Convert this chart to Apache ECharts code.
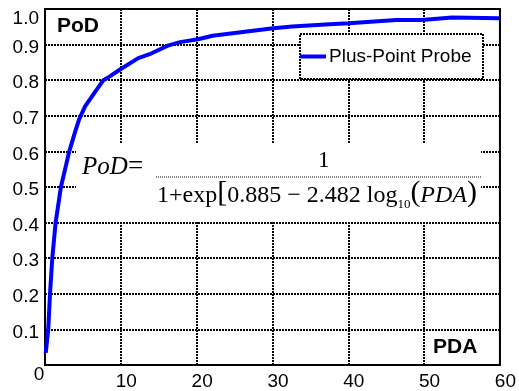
<!DOCTYPE html>
<html>
<head>
<meta charset="utf-8">
<script src="https://cdn.jsdelivr.net/npm/echarts@6/dist/echarts.min.js"></script>
<style>
  html, body {margin: 0; padding: 0; background: #fff;}
  #chart {width: 519px; height: 391px;}
</style>
</head>
<body>
<div id="chart"></div>
<script>
// values
const pdaValues = [0.1, 0.43, 0.66, 0.96, 1.4, 2.1, 3.2, 3.9, 4.5, 5.3, 7.7, 8.5, 9.9, 12.3, 13.8, 16.2, 17.8, 20.2, 22.1, 30.1, 32.6, 37.5, 40.1, 46.3, 49.7, 53.7, 60]
const podValues = [0.034, 0.1, 0.2, 0.3, 0.4, 0.5, 0.6, 0.65, 0.69, 0.727, 0.80, 0.81, 0.83, 0.862, 0.873, 0.897, 0.907, 0.915, 0.925, 0.946, 0.951, 0.957, 0.96, 0.969, 0.969, 0.976, 0.974]
const seriesName = 'Plus-Point Probe'
const xTicks = [0, 10, 20, 30, 40, 50, 60]
const yTicks = [0, 0.1, 0.2, 0.3, 0.4, 0.5, 0.6, 0.7, 0.8, 0.9, 1.0]

const sans = '"Liberation Sans", Arial, sans-serif'
const serif = '"Liberation Serif", "Times New Roman", serif'

const chart = echarts.init(document.getElementById('chart'), null, {renderer: 'canvas'})

const gridLine = {show: true, lineStyle: {color: '#000', width: 2, type: [2, 1]}}

chart.setOption({
  animation: false,
  backgroundColor: '#fff',
  grid: {left: 45, right: 18, top: 9, bottom: 24, show: true, borderColor: '#000', borderWidth: 2, backgroundColor: 'transparent'},
  xAxis: {
    type: 'value',
    min: xTicks[0],
    max: xTicks[xTicks.length - 1],
    interval: 10,
    axisLine: {show: true, onZero: false, lineStyle: {color: '#000', width: 2}},
    axisTick: {show: false},
    splitLine: gridLine,
    axisLabel: {
      margin: 0,
      fontFamily: sans,
      fontSize: 19,
      color: '#000',
      formatter: v => v === 0 ? '{zero|0}' : '{n|' + v + '}',
      rich: {
        n: {fontFamily: sans, fontSize: 19, color: '#000', padding: [7, 0, 0, 11]},
        zero: {fontFamily: sans, fontSize: 19, color: '#000', padding: [0, 12, 7, 0]}
      }
    }
  },
  yAxis: {
    type: 'value',
    min: yTicks[0],
    max: yTicks[yTicks.length - 1],
    interval: 0.1,
    axisLine: {show: true, onZero: false, lineStyle: {color: '#000', width: 2}},
    axisTick: {show: false},
    splitLine: gridLine,
    axisLabel: {
      margin: 6,
      fontFamily: sans,
      fontSize: 19,
      color: '#000',
      formatter: v => {
        if (v === 0) return ''
        if (v >= 0.999) return '{top|1.0}'
        return '{n|' + v.toFixed(1) + '}'
      },
      rich: {
        n: {fontFamily: sans, fontSize: 19, color: '#000', padding: [6, 0, 0, 0]},
        top: {fontFamily: sans, fontSize: 19, color: '#000', padding: [20, 0, 0, 0]}
      }
    }
  },
  legend: {
    data: [seriesName],
    left: 300,
    top: 47,
    padding: 0,
    icon: 'rect',
    itemWidth: 26,
    itemHeight: 4,
    itemGap: 0,
    z: 6,
    textStyle: {fontFamily: sans, fontSize: 19, color: '#000', padding: [0, 0, 0, -2]}
  },
  graphic: [
    // legend frame
    {type: 'rect', z: 5, shape: {x: 300, y: 34, width: 183, height: 45},
      style: {fill: '#fff', stroke: '#000', lineWidth: 2, lineDash: [2, 1]}},
    // equation box
    {type: 'rect', z: 5, shape: {x: 76, y: 143, width: 405, height: 79},
      style: {fill: '#fff', stroke: null}},
    {type: 'text', z: 6, left: 82, top: 155,
      style: {text: 'PoD', font: 'italic 25px ' + serif, fill: '#000'}},
    {type: 'text', z: 6, left: 128, top: 153,
      style: {text: '=', font: '27px ' + serif, fill: '#000'}},
    {type: 'text', z: 6, left: 318, top: 149,
      style: {text: '1', font: '23px ' + serif, fill: '#000'}},
    {type: 'line', z: 6, shape: {x1: 156, y1: 177, x2: 482, y2: 177},
      style: {stroke: '#000', lineWidth: 1, lineDash: [1, 1]}},
    {type: 'text', z: 6, left: 157, top: 178,
      style: {
        text: '{n|1+exp}{b|[}{n|0.885 − 2.482 log}{s|10}{b|(}{i|PDA}{b|)}',
        rich: {
          n: {fontFamily: serif, fontSize: 24, color: '#000', verticalAlign: 'bottom'},
          b: {fontFamily: serif, fontSize: 30, color: '#000', verticalAlign: 'bottom'},
          s: {fontFamily: serif, fontSize: 13, color: '#000', verticalAlign: 'bottom', padding: [0, 0, -3, 0]},
          i: {fontFamily: serif, fontSize: 24, fontStyle: 'italic', color: '#000', verticalAlign: 'bottom'}
        }
      }},
    // axis titles
    {type: 'text', z: 6, left: 57, top: 16,
      style: {text: 'PoD', font: 'bold 21px ' + sans, fill: '#000'}},
    {type: 'text', z: 6, left: 433, top: 337,
      style: {text: 'PDA', font: 'bold 21px ' + sans, fill: '#000'}}
  ],
  series: [{
    name: seriesName,
    type: 'line',
    data: pdaValues.map((x, i) => [x, podValues[i]]),
    showSymbol: false,
    symbol: 'none',
    z: 3,
    itemStyle: {color: '#0000ff'},
    lineStyle: {color: '#0000ff', width: 4}
  }]
})
</script>
</body>
</html>
